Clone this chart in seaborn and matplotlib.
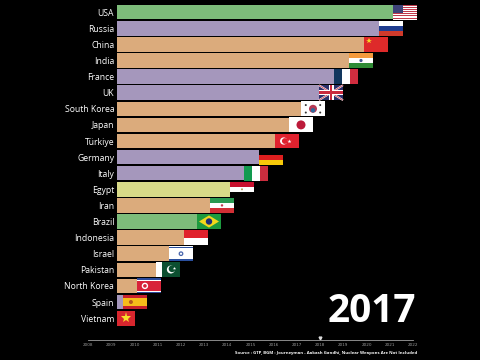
import matplotlib
matplotlib.use("Agg")
import matplotlib.pyplot as plt
import pandas as pd
import seaborn as sns
from matplotlib.patches import Ellipse, Polygon, Rectangle

countries = ["USA", "Russia", "China", "India", "France", "UK", "South Korea", "Japan", "Türkiye", "Germany",
             "Italy", "Egypt", "Iran", "Brazil", "Indonesia", "Israel", "Pakistan", "North Korea", "Spain", "Vietnam"]
values = [276, 262, 247, 232, 217, 202, 184, 172, 158, 142, 127, 113, 93, 80, 67, 52, 39, 20, 6, 0]
regions = ["Americas", "Europe", "Asia", "Asia", "Europe", "Europe", "Asia", "Asia", "Asia", "Europe",
           "Europe", "Africa", "Asia", "Americas", "Asia", "Asia", "Asia", "Asia", "Europe", "Asia"]
timeline_years = list(range(2008, 2023))
current_year = 2017
marker_year = 2018
region_colors = {"Americas": "#7dbc7a", "Europe": "#a597bc", "Asia": "#dbab7c", "Africa": "#d8da88"}
source_text = "Source : GTP, BGM : Journeyman - Aakash Gandhi, Nuclear Weapons Are Not Included"

FONT = "Open Sans"
FLAG_H = 0.93
# bandes: (u0, v0, u1, v1, couleur) dans le carre du drapeau
FLAG_BANDS = {
    "USA": [(0, 0, 1, 1, "#ffffff")] + [(0, v / 7, 1, (v + 0.5) / 7, "#c0394b") for v in range(7)]
           + [(0, 0, 0.42, 0.54, "#3d4277")],
    "Russia": [(0, 0, 1, 0.33, "#ffffff"), (0, 0.33, 1, 0.67, "#1f3d8f"), (0, 0.67, 1, 1, "#cf3a2b")],
    "China": [(0, 0, 1, 1, "#de2a2a")],
    "India": [(0, 0, 1, 0.33, "#f49a3c"), (0, 0.33, 1, 0.67, "#ffffff"), (0, 0.67, 1, 1, "#2f8b35")],
    "France": [(0, 0, 0.33, 1, "#12365e"), (0.33, 0, 0.67, 1, "#ffffff"), (0.67, 0, 1, 1, "#d12d3f")],
    "UK": [(0, 0, 1, 1, "#2b2f6b")],
    "South Korea": [(0, 0, 1, 1, "#ffffff")],
    "Japan": [(0, 0, 1, 1, "#ffffff")],
    "Türkiye": [(0, 0, 1, 1, "#e0222f")],
    "Germany": [(0, 0, 1, 0.33, "#000000"), (0, 0.33, 1, 0.67, "#dd1e1e"), (0, 0.67, 1, 1, "#f7c90a")],
    "Italy": [(0, 0, 0.33, 1, "#129a4f"), (0.33, 0, 0.67, 1, "#ffffff"), (0.67, 0, 1, 1, "#cb2d3e")],
    "Egypt": [(0, 0, 1, 0.33, "#c8102e"), (0, 0.33, 1, 0.67, "#ffffff"), (0, 0.67, 1, 1, "#000000")],
    "Iran": [(0, 0, 1, 0.33, "#2a9a52"), (0, 0.33, 1, 0.67, "#ffffff"), (0, 0.67, 1, 1, "#d22f35")],
    "Brazil": [(0, 0, 1, 1, "#1d9a3f")],
    "Indonesia": [(0, 0, 1, 0.5, "#e0212c"), (0, 0.5, 1, 1, "#ffffff")],
    "Israel": [(0, 0, 1, 1, "#ffffff"), (0, 0.03, 1, 0.14, "#2a4f9e"), (0, 0.86, 1, 0.97, "#2a4f9e")],
    "Pakistan": [(0, 0, 0.25, 1, "#ffffff"), (0.25, 0, 1, 1, "#0c4f30")],
    "North Korea": [(0, 0, 1, 1, "#2a4a9a"), (0, 0.12, 1, 0.88, "#ffffff"), (0, 0.18, 1, 0.82, "#d8233a")],
    "Spain": [(0, 0, 1, 1, "#c8202c"), (0, 0.25, 1, 0.75, "#f6bb1a")],
    "Vietnam": [(0, 0, 1, 1, "#d8262e")],
}
# ronds: (u, v, rayon en px, couleur)
FLAG_DOTS = {
    "India": [(0.5, 0.5, 1.6, "#46578f")],
    "South Korea": [(0.5, 0.5, 4, "#b53a55"), (0.5, 0.6, 2.2, "#2f6a9c"),
                    (0.2, 0.25, 1, "#333333"), (0.8, 0.25, 1, "#333333"),
                    (0.2, 0.75, 1, "#333333"), (0.8, 0.75, 1, "#333333")],
    "Japan": [(0.5, 0.5, 4.5, "#bc1a3a")],
    "Türkiye": [(0.36, 0.5, 3.6, "#ffffff"), (0.41, 0.5, 2.9, "#e0222f")],
    "Egypt": [(0.5, 0.5, 1, "#b9a15a")],
    "Iran": [(0.5, 0.5, 1.2, "#c23a50")],
    "Brazil": [(0.5, 0.5, 3.2, "#1c2f78")],
    "Israel": [(0.5, 0.5, 2.4, "#4a67ad"), (0.5, 0.5, 1.1, "#ffffff")],
    "Pakistan": [(0.62, 0.48, 4, "#ffffff"), (0.67, 0.43, 3.4, "#0c4f30")],
    "North Korea": [(0.33, 0.5, 3.2, "#ffffff"), (0.33, 0.5, 1.8, "#d8233a")],
    "Spain": [(0.33, 0.5, 2, "#b5561f")],
}
# etoiles: (u, v, taille, couleur)
FLAG_STARS = {
    "China": [(0.2, 0.3, 4, "#f7d724")],
    "Türkiye": [(0.58, 0.5, 3, "#ffffff")],
    "Pakistan": [(0.74, 0.35, 2.5, "#ffffff")],
    "Vietnam": [(0.5, 0.5, 8, "#f7e02a")],
}


def draw_flag(ax, name, x0, y):
    width = 18 if name == "Vietnam" else 24
    top = y - FLAG_H / 2
    for u0, v0, u1, v1, color in FLAG_BANDS[name]:
        ax.add_patch(Rectangle((x0 + u0 * width, top + v0 * FLAG_H), (u1 - u0) * width, (v1 - v0) * FLAG_H,
                               facecolor=color, edgecolor="none", zorder=3))
    if name == "UK":
        left, right = x0, x0 + width
        for color, lw in [("#ffffff", 1.3), ("#c9283e", 0.5)]:
            ax.plot([left, right], [top, top + FLAG_H], color=color, lw=lw, zorder=3.1, solid_capstyle="butt")
            ax.plot([left, right], [top + FLAG_H, top], color=color, lw=lw, zorder=3.1, solid_capstyle="butt")
        for color, grow in [("#ffffff", 1.0), ("#c9283e", 0.55)]:
            ax.add_patch(Rectangle((left, y - 0.15 * grow), width, 0.3 * grow, facecolor=color, edgecolor="none", zorder=3.2))
            ax.add_patch(Rectangle((x0 + width / 2 - 2.5 * grow, top), 5 * grow, FLAG_H, facecolor=color, edgecolor="none", zorder=3.2))
    if name == "Brazil":
        mid = x0 + width / 2
        ax.add_patch(Polygon([(mid - 10, y), (mid, y - 0.38), (mid + 10, y), (mid, y + 0.38)],
                             facecolor="#f2d81c", edgecolor="none", zorder=3.1))
    for u, v, radius, color in FLAG_DOTS.get(name, []):
        ax.add_patch(Ellipse((x0 + u * width, top + v * FLAG_H), 2 * radius, 2 * radius / 16.1,
                             facecolor=color, edgecolor="none", zorder=4))
    for u, v, size, color in FLAG_STARS.get(name, []):
        ax.plot([x0 + u * width], [top + v * FLAG_H], marker="*", markersize=size, color=color,
                markeredgewidth=0, zorder=5)


def plot_ranking(output_path):
    data = pd.DataFrame({"country": countries, "value": values, "region": regions})

    fig = plt.figure(figsize=(4.8, 3.6), dpi=100, facecolor="black")
    ax = fig.add_axes([117 / 480, 20 / 360, 300 / 480, 340 / 360], facecolor="black")
    sns.barplot(data=data, x="value", y="country", hue="region", palette=region_colors, dodge=False,
                width=0.9, legend=False, saturation=1, ax=ax)
    ax.set_xlim(0, 300)
    ax.set_ylim(20.36, -0.758)
    ax.set_xlabel("")
    ax.set_ylabel("")
    ax.set_xticks([])
    ax.tick_params(axis="y", length=0, pad=2, colors="white", labelsize=6.2)
    for label in ax.get_yticklabels():
        label.set_fontfamily(FONT)
    sns.despine(ax=ax, left=True, bottom=True)
    for i, (name, value) in enumerate(zip(countries, values)):
        draw_flag(ax, name, value, i)

    # Zeitachse unten
    axis = fig.add_axes([88 / 480, 18 / 360, 325 / 480, 2 / 360], facecolor="black")
    axis.set_xlim(timeline_years[0], timeline_years[-1])
    axis.set_ylim(0, 1)
    axis.set_yticks([])
    axis.set_xticks(timeline_years)
    axis.set_xticklabels(timeline_years)
    axis.tick_params(axis="x", length=0, pad=0.8, colors="#9a9a9a", labelsize=3)
    for side in ["left", "right", "bottom"]:
        axis.spines[side].set_visible(False)
    axis.spines["top"].set_color("#a0a0a0")
    axis.spines["top"].set_linewidth(0.6)
    axis.plot([marker_year], [2], marker="v", markersize=2, color="#dddddd", clip_on=False)

    fig.text(416 / 480, 1 - 322 / 360, str(current_year), color="white", fontsize=28, fontweight="bold",
             family=FONT, ha="right", va="baseline")
    fig.text(417 / 480, 1 - 353 / 360, source_text, color="white", fontsize=3.1, fontweight="bold",
             family=FONT, ha="right", va="center")

    plt.savefig(output_path, dpi=100, facecolor="black")


if __name__ == "__main__":
    plot_ranking("out.png")
